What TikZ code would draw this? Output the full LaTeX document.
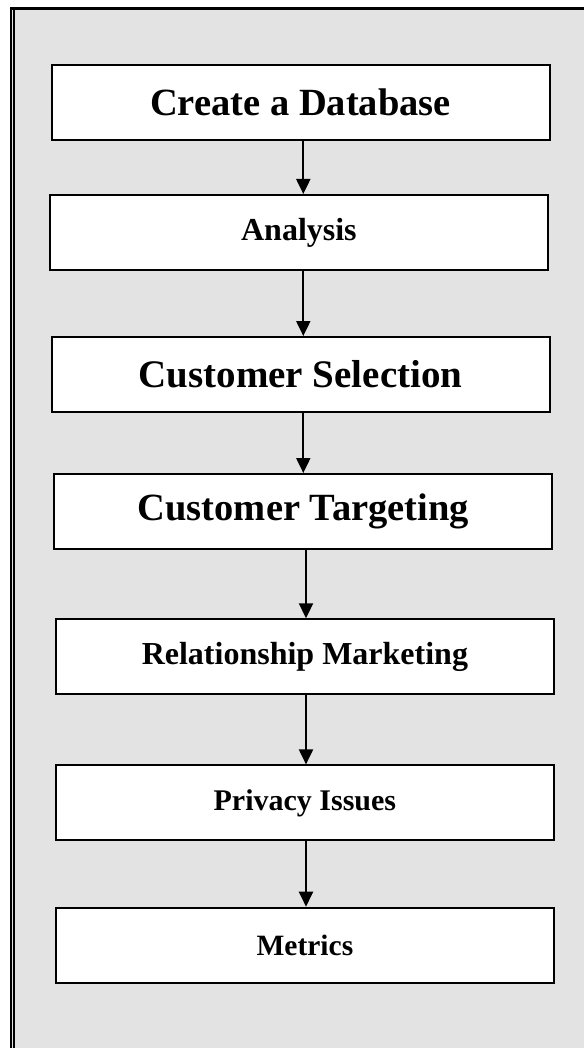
\documentclass[tikz,border=0pt]{standalone}
\usepackage{fontspec}
\setmainfont{Liberation Serif}
\usetikzlibrary{arrows.meta}
\definecolor{bg}{HTML}{E3E3E3}
\begin{document}
\begin{tikzpicture}[x=1pt,y=-1pt,
  stepbox/.style={draw=black, line width=2pt, fill=white, inner sep=0pt,
    minimum width=498pt, minimum height=75pt, font=\bfseries},
  fs/.style={font=\fontsize{#1}{#1}\selectfont\bfseries},
  arr/.style={line width=2pt, -{Triangle[length=15pt,width=14pt]}}]
\useasboundingbox (0,0) rectangle (584,1048);
\fill[bg] (12,8) rectangle (584,1048);
\draw[line width=3pt] (10,8.5) -- (584,8.5);
\draw[line width=1.8pt] (11,7) -- (11,1048);
\draw[line width=1.8pt] (14.2,10) -- (14.2,1048);
\node[stepbox, fs=38.5] (b1) at (300.5,102.5) {Create a Database};
\node[stepbox, fs=32] (b2) at (298.9,232.5) {Analysis};
\node[stepbox, fs=39] (b3) at (300.5,374.5) {Customer Selection};
\node[stepbox, fs=38.5] (b4) at (303.3,511.5) {Customer Targeting};
\node[stepbox, fs=32] (b5) at (304.9,656.8) {Relationship Marketing};
\node[stepbox, fs=30] (b6) at (304.9,802.9) {Privacy Issues};
\node[stepbox, fs=29.5] (b7) at (304.9,945.2) {Metrics};
\coordinate (xa) at (303.3,0);
\coordinate (xb) at (306,0);
\draw[arr] (b1.south -| xa) -- (b2.north -| xa);
\draw[arr] (b2.south -| xa) -- (b3.north -| xa);
\draw[arr] (b3.south -| xa) -- (b4.north -| xa);
\draw[arr] (b4.south -| xb) -- (b5.north -| xb);
\draw[arr] (b5.south -| xb) -- (b6.north -| xb);
\draw[arr] (b6.south -| xb) -- (b7.north -| xb);
\end{tikzpicture}
\end{document}
